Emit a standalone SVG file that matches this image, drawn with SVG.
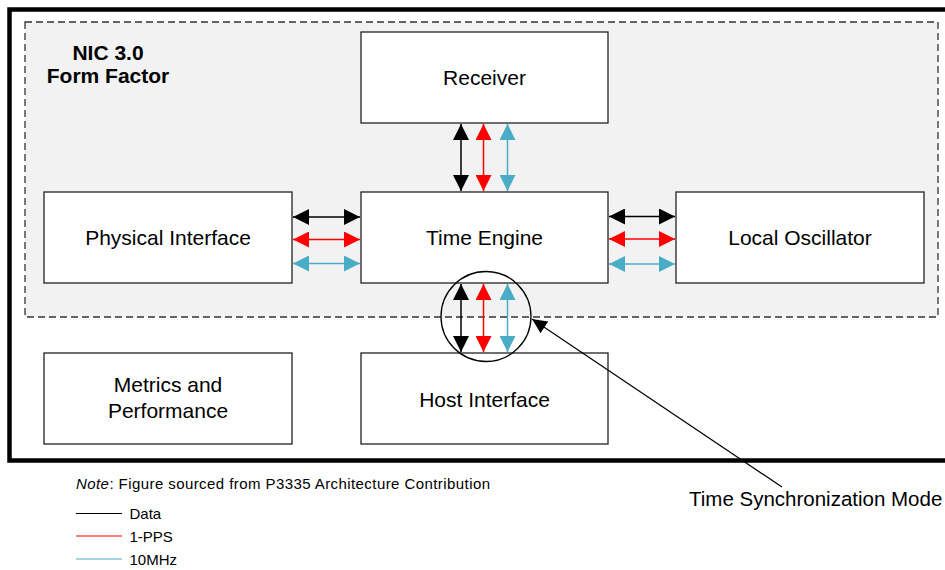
<svg xmlns="http://www.w3.org/2000/svg" width="945" height="570" viewBox="0 0 945 570">
<style>
  text { font-family: "Liberation Sans", Arial, sans-serif; fill: #000; }
  .box { fill: #fff; stroke: #222; stroke-width: 1.3; }
  .lbl { font-size: 21px; text-anchor: middle; }
  .blk { stroke: #000; stroke-width: 1.5; fill: none; }
  .red { stroke: #ff0000; stroke-width: 1.5; fill: none; }
  .cyn { stroke: #4bacc6; stroke-width: 1.5; fill: none; }
  .leg { font-size: 15px; }
</style>
<defs>
  <marker id="mk" markerUnits="userSpaceOnUse" markerWidth="16" markerHeight="16" refX="16" refY="8" orient="auto-start-reverse">
    <path d="M0,0 L16,8 L0,16 z" fill="#000"/>
  </marker>
  <marker id="mr" markerUnits="userSpaceOnUse" markerWidth="16" markerHeight="16" refX="16" refY="8" orient="auto-start-reverse">
    <path d="M0,0 L16,8 L0,16 z" fill="#ff0000"/>
  </marker>
  <marker id="mc" markerUnits="userSpaceOnUse" markerWidth="16" markerHeight="16" refX="16" refY="8" orient="auto-start-reverse">
    <path d="M0,0 L16,8 L0,16 z" fill="#4bacc6"/>
  </marker>
  <marker id="mp" markerUnits="userSpaceOnUse" markerWidth="15" markerHeight="14" refX="15" refY="7" orient="auto">
    <path d="M0,0 L15,7 L0,14 z" fill="#000"/>
  </marker>
</defs>
<rect width="945" height="570" fill="#fff"/>
<g id="outer">
  <rect x="9.5" y="9.5" width="960" height="451" fill="#fff" stroke="#000" stroke-width="4.5"/>
</g>
<g id="nic-form-factor">
  <rect x="25" y="22" width="913" height="295" fill="#f2f2f2" stroke="#333" stroke-width="1.3" stroke-dasharray="7 4"/>
  <text x="108" y="60" font-size="21" font-weight="bold" text-anchor="middle">NIC 3.0</text>
  <text x="108" y="83" font-size="21" font-weight="bold" text-anchor="middle">Form Factor</text>
</g>
<g id="receiver">
  <rect class="box" x="361" y="32" width="247" height="91"/>
  <text class="lbl" x="484.5" y="84.5">Receiver</text>
</g>
<g id="physical-interface">
  <rect class="box" x="44" y="192" width="248" height="91"/>
  <text class="lbl" x="168" y="244.5">Physical Interface</text>
</g>
<g id="time-engine">
  <rect class="box" x="361" y="192" width="247" height="91"/>
  <text class="lbl" x="484.5" y="244.5">Time Engine</text>
</g>
<g id="local-oscillator">
  <rect class="box" x="676" y="192" width="248" height="91"/>
  <text class="lbl" x="800" y="244.5">Local Oscillator</text>
</g>
<g id="metrics-performance">
  <rect class="box" x="44" y="353" width="248" height="91"/>
  <text class="lbl" x="168" y="391.5">Metrics and</text>
  <text class="lbl" x="168" y="417.5">Performance</text>
</g>
<g id="host-interface">
  <rect class="box" x="361" y="353" width="247" height="91"/>
  <text class="lbl" x="484.5" y="406.5">Host Interface</text>
</g>
<g id="connectors">
  <!-- Receiver <-> Time Engine -->
  <line class="blk" x1="461" y1="124" x2="461" y2="191" marker-start="url(#mk)" marker-end="url(#mk)"/>
  <line class="red" x1="483.5" y1="124" x2="483.5" y2="191" marker-start="url(#mr)" marker-end="url(#mr)"/>
  <line class="cyn" x1="507.5" y1="124" x2="507.5" y2="191" marker-start="url(#mc)" marker-end="url(#mc)"/>
  <!-- Physical Interface <-> Time Engine -->
  <line class="blk" x1="293" y1="217" x2="360" y2="217" marker-start="url(#mk)" marker-end="url(#mk)"/>
  <line class="red" x1="293" y1="239.5" x2="360" y2="239.5" marker-start="url(#mr)" marker-end="url(#mr)"/>
  <line class="cyn" x1="293" y1="263.5" x2="360" y2="263.5" marker-start="url(#mc)" marker-end="url(#mc)"/>
  <!-- Time Engine <-> Local Oscillator -->
  <line class="blk" x1="609" y1="216.5" x2="675" y2="216.5" marker-start="url(#mk)" marker-end="url(#mk)"/>
  <line class="red" x1="609" y1="239" x2="675" y2="239" marker-start="url(#mr)" marker-end="url(#mr)"/>
  <line class="cyn" x1="609" y1="264" x2="675" y2="264" marker-start="url(#mc)" marker-end="url(#mc)"/>
  <!-- Time Engine <-> Host Interface -->
  <line class="blk" x1="461" y1="284" x2="461" y2="352" marker-start="url(#mk)" marker-end="url(#mk)"/>
  <line class="red" x1="483.5" y1="284" x2="483.5" y2="352" marker-start="url(#mr)" marker-end="url(#mr)"/>
  <line class="cyn" x1="507.5" y1="284" x2="507.5" y2="352" marker-start="url(#mc)" marker-end="url(#mc)"/>
</g>
<g id="time-sync-model">
  <circle cx="486" cy="316.5" r="45" fill="none" stroke="#000" stroke-width="1.3"/>
  <line x1="782" y1="487" x2="532" y2="319" stroke="#000" stroke-width="1.2" marker-end="url(#mp)"/>
  <text x="689" y="506" font-size="20.5">Time Synchronization Mode</text>
</g>
<g id="note">
  <text x="76" y="488.5" font-size="15" textLength="414" lengthAdjust="spacing"><tspan font-style="italic">Note</tspan>: Figure sourced from P3335 Architecture Contribution</text>
</g>
<g id="legend">
  <line x1="76" y1="513.5" x2="122" y2="513.5" stroke="#000" stroke-width="1.2"/>
  <text class="leg" x="129.5" y="519">Data</text>
  <line x1="76" y1="536" x2="122" y2="536" stroke="#ff0000" stroke-width="1.2"/>
  <text class="leg" x="129.5" y="541.5">1-PPS</text>
  <line x1="76" y1="559" x2="122" y2="559" stroke="#4bacc6" stroke-width="1.2"/>
  <text class="leg" x="129.5" y="564.5">10MHz</text>
</g>
</svg>
